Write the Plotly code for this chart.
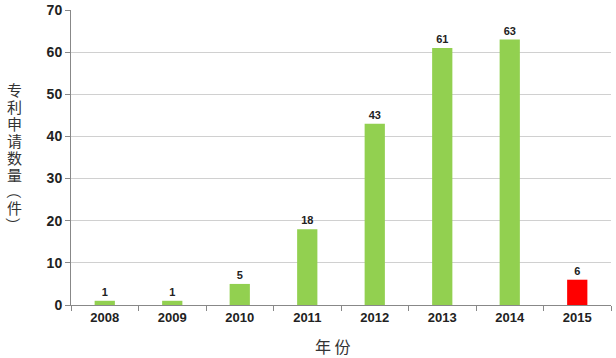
import plotly.graph_objects as go

years = ["2008", "2009", "2010", "2011", "2012", "2013", "2014", "2015"]
counts = [1, 1, 5, 18, 43, 61, 63, 6]
bar_colors = ["#92D050"] * 7 + ["#FF0000"]
y_title_chars = ["专", "利", "申", "请", "数", "量", "（", "件", "）"]
x_title = "年 份"

W, H = 616, 358
ML, MR, MT, MB = 71, 5, 10, 53
PW, PH = W - ML - MR, H - MT - MB

def px_x(px):
    return (px - ML) / PW

def px_y(py):
    return 1 - (py - MT) / PH

fig = go.Figure(go.Bar(
    x=years, y=counts,
    marker=dict(color=bar_colors, line=dict(width=0)),
    text=[str(c) for c in counts], textposition="outside",
    textfont=dict(family="Liberation Sans", size=11, color="#222"),
    texttemplate="<b>%{text}</b>",
    cliponaxis=False,
    width=0.3,
))

annotations = []
for i, ch in enumerate(y_title_chars):
    rotate = ch in ("（", "）")
    annotations.append(dict(
        text=ch, x=px_x(14), y=px_y(90 + i * 16.8), xref="paper", yref="paper",
        showarrow=False, textangle=90 if rotate else 0,
        font=dict(family="Noto Sans CJK SC", size=15, color="#333"),
        xanchor="center", yanchor="middle"))
annotations.append(dict(
    text=x_title, x=px_x(333), y=px_y(346), xref="paper", yref="paper",
    showarrow=False, font=dict(family="Noto Sans CJK SC", size=16, color="#333"),
    xanchor="center", yanchor="middle"))

fig.update_layout(
    width=W, height=H,
    margin=dict(l=ML, r=MR, t=MT, b=MB),
    paper_bgcolor="white", plot_bgcolor="white",
    showlegend=False,
    font=dict(family="Liberation Sans", color="#222"),
    annotations=annotations,
)

fig.update_xaxes(
    type="category", showline=True, linecolor="#888", linewidth=1,
    ticks="outside", tickson="boundaries", ticklen=5, tickcolor="#888",
    tickfont=dict(family="Liberation Sans", size=13, color="#222"),
    tickprefix="<b>", ticksuffix="</b>",
    showgrid=False, automargin=False,
)
fig.update_yaxes(
    range=[0, 70], dtick=10, showline=True, linecolor="#888", linewidth=1,
    ticks="outside", ticklen=5, tickcolor="#888",
    gridcolor="#d0d0d0", gridwidth=1,
    tickfont=dict(family="Liberation Sans", size=14, color="#222"),
    tickprefix="<b>", ticksuffix="</b>",
    zeroline=False, automargin=False,
)

fig.write_html(
    "out.html",
    config={"displayModeBar": False},
    post_script="document.body.style.margin='0px';document.body.style.overflow='hidden';",
)
